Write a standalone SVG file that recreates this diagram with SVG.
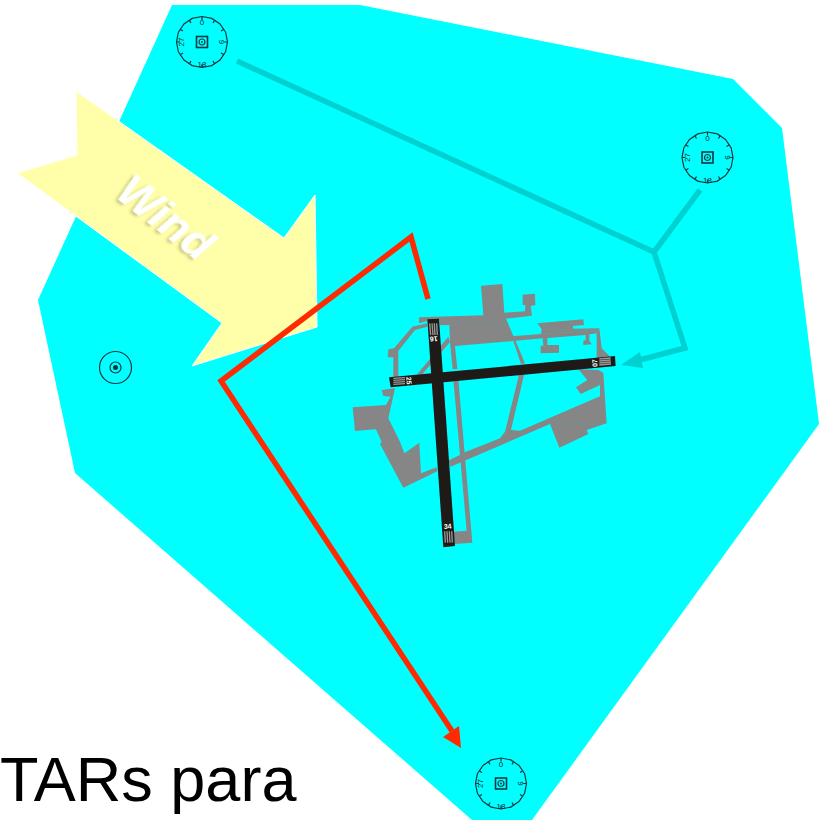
<svg xmlns="http://www.w3.org/2000/svg" width="831" height="820" viewBox="0 0 831 820">
<style>
.ring{fill:none;stroke:#0f3a40;stroke-width:1.200}
.sq{fill:none;stroke:#0f3a40;stroke-width:1.600}
.rt{font-family:"Liberation Sans",Arial,sans-serif;font-size:8px;fill:#0f2a30;text-anchor:middle}
.gray{fill:#868686;stroke:none}
.rwy{fill:#1d1a17}
.th{stroke:#b0b0b0;stroke-width:4;opacity:.85}
.rn{font-family:"Liberation Sans",Arial,sans-serif;font-size:7px;font-weight:bold;fill:#fff;text-anchor:middle}
.seam{fill:none;stroke:#3fc0c0;stroke-width:1;opacity:.6}
.teal{fill:none;stroke:#00d0d0;stroke-width:5.500;stroke-linejoin:miter}
.red{fill:none;stroke:#ff2a00;stroke-width:5.500;stroke-linejoin:miter}
</style>
<defs>
<g id="dial">
<polygon class="ring" points="0,-25.500 9.800,-23.600 18,-18 23.600,-9.800 25.500,0 23.600,9.800 18,18 9.800,23.600 0,25.500 -9.800,23.600 -18,18 -23.600,9.800 -25.500,0 -23.600,-9.800 -18,-18 -9.800,-23.600"/>
<path class="ring" d="M0-25.500V-22M12.700-22L11-19M22-12.700L19-11M25.500 0H22M22 12.700L19 11M12.700 22L11 19M0 25.500V22M-12.700 22L-11 19M-22 12.700L-19 11M-25.500 0H-22M-22-12.700L-19-11M-12.700-22L-11-19"/>
<rect x="-5.500" y="-5.500" width="11" height="11" class="sq"/>
<circle class="ring" r="3"/>
<circle r="1" fill="#0f3a40"/>
</g>
<filter id="sh" x="-20%" y="-20%" width="140%" height="140%"><feDropShadow dx="-2" dy="3" stdDeviation="1.500" flood-color="#000" flood-opacity=".2"/></filter>
</defs>

<polygon id="area" fill="#00ffff" points="172,5 360,5 733,79 782,128 819,424 532,820 472,820 75,473 38,300"/>

<g id="wind-arrow">
<polygon fill="#ffffaa" stroke="#fff" stroke-width="1" points="76,91 284,238 315,195 317,327 192,366 222,323 17,173 77,155"/>
<text x="0" y="0" transform="translate(164,220) rotate(38)" text-anchor="middle" dominant-baseline="middle" font-family="Liberation Sans,Arial,sans-serif" font-size="44" font-weight="bold" font-style="italic" fill="#fff" filter="url(#sh)">Wind</text>
</g>

<g id="airport" transform="translate(340,270) scale(.33333)">
<g id="aprons">
<polygon class="gray" points="423,47 487,42 493,128 555,124 556,105 548,105 548,74 585,71 586,105 572,108 576,137 498,146 555,280 543,282 520,213 345,228 352,297 338,298 330,215 328,165 300,166 298,150 262,153 237,160 237,142 262,141 430,136"/>
<polygon class="gray" points="592,160 730,148 732,165 698,168 700,176 778,175 770,190 748,193 748,212 755,223 730,225 730,212 737,210 737,195 622,204 622,225 657,225 657,248 602,250 602,227 610,227 608,205 520,213 517,199 603,192 605,177"/>
<polygon class="gray" points="38,412 138,405 152,380 130,378 125,360 165,355 145,445 180,515 193,550 238,518 243,610 290,592 292,604 190,653 120,522 125,515 108,478 45,483"/>
<polygon class="gray" points="325,572 378,545 480,505 495,485 537,315 552,315 513,480 540,482 780,379 780,345 722,372 708,352 742,330 715,298 775,300 790,308 800,460 740,480 745,492 658,533 630,462 332,590"/>
<polygon class="gray" points="770,190 778,175 785,235 808,258 805,270 770,270"/>
<polygon class="gray" points="340,328 355,328 397,818 345,822 340,785 380,782"/>
<polygon class="gray" points="145,238 162,235 217,170 262,160 262,170 225,180 175,243 175,325 160,325 160,262 143,262"/>
<polygon class="gray" points="325,200 330,216 245,315 232,312"/>
<path class="seam" d="M330,163H500M345,228L518,213M630,460H795M195,550H240M522,198L775,180M605,178H730"/>
</g>
<g id="runway-16-34">
<polygon class="rwy" points="262,148 297,146 345,828 310,832"/>
<g class="th"><path d="M269,160L272,195M276,160L279,195M283,160L285,195M290,160L292,195"/><path d="M314,784L316,818M321,784L323,818M328,784L330,818M335,784L337,818"/></g>
<text class="rn" transform="translate(281,205) rotate(176) scale(3)" dominant-baseline="middle">16</text>
<text class="rn" transform="translate(323,771) rotate(-4) scale(3)" dominant-baseline="middle">34</text>
</g>
<g id="runway-07-25">
<polygon class="rwy" points="147,322 825,258 827,288 152,352"/>
<g class="th"><path d="M160,325L195,323M160,331L195,329M160,337L195,335M160,343L195,341"/><path d="M778,267L812,264M778,273L812,270M778,279L813,276M778,285L813,282"/></g>
<text class="rn" transform="translate(205,332) rotate(86) scale(3)" dominant-baseline="middle">25</text>
<text class="rn" transform="translate(766,279) rotate(-94) scale(3)" dominant-baseline="middle">07</text>
</g>
</g>

<g id="connectors">
<path class="teal" d="M237,61L654,252L685,348L636,361"/>
<path class="teal" d="M700,190L654,252"/>
<polygon fill="#00d0d0" points="621,365 640,352 643,368"/>
<path class="red" d="M428,299L411,237L221,381L452,731"/>
<polygon fill="#ff2a00" points="461,748 443,737 459,726"/>
</g>

<g id="fix-nw" transform="translate(202,42)">
<use href="#dial"/>
<text class="rt" y="-17">0</text><text class="rt" y="25">18</text>
<text class="rt" transform="translate(-21,0) rotate(-90)" y="3">27</text><text class="rt" transform="translate(20,0) rotate(90)" y="3">9</text>
</g>
<g id="fix-ne" transform="translate(707.500,157.500)">
<use href="#dial"/>
<text class="rt" y="-17">0</text><text class="rt" y="25">18</text>
<text class="rt" transform="translate(-21,0) rotate(-90)" y="3">27</text><text class="rt" transform="translate(20,0) rotate(90)" y="3">9</text>
</g>
<g id="fix-s" transform="translate(501,783.500)">
<use href="#dial"/>
<text class="rt" y="-17">0</text><text class="rt" y="25">18</text>
<text class="rt" transform="translate(-21,0) rotate(-90)" y="3">27</text><text class="rt" transform="translate(20,0) rotate(90)" y="3">9</text>
</g>
<g id="vor-w" transform="translate(115.500,367.500)">
<circle class="ring" r="16"/>
<circle class="ring" r="5.500" stroke-width="1.500"/>
<circle r="2.500" fill="#0f3a40"/>
</g>

<text id="caption" x="0" y="801" font-family="Liberation Sans,Arial,sans-serif" font-size="63" fill="#000">TARs para</text>
</svg>
